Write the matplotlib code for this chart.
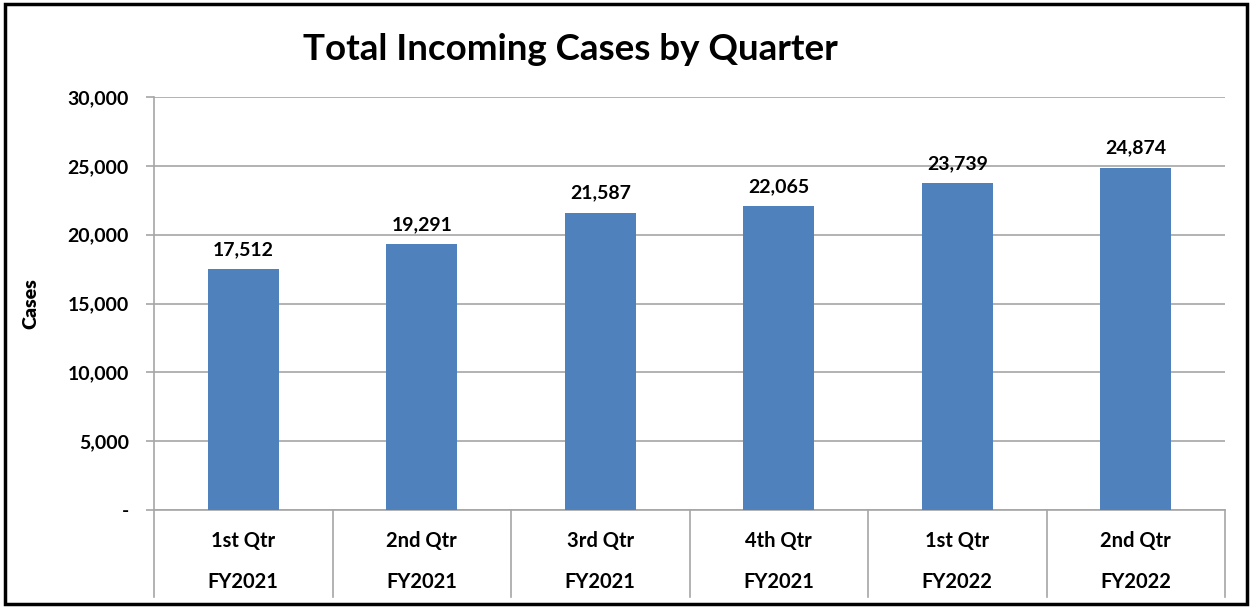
import matplotlib
matplotlib.use("Agg")
import matplotlib.pyplot as plt
from matplotlib.patches import Rectangle
from matplotlib.transforms import blended_transform_factory

quarters = ["1st Qtr", "2nd Qtr", "3rd Qtr", "4th Qtr", "1st Qtr", "2nd Qtr"]
years = ["FY2021", "FY2021", "FY2021", "FY2021", "FY2022", "FY2022"]
cases = [17512, 19291, 21587, 22065, 23739, 24874]
yticks = [0, 5000, 10000, 15000, 20000, 25000, 30000]

FONT = "Lato"
plt.rcParams['font.family'] = [FONT, 'DejaVu Sans']

fig = plt.figure(figsize=(12.52, 6.08), dpi=100)
ax = fig.add_axes([154/1252, 1-510/608, (1225-154)/1252, (510-97)/608])

x = list(range(len(cases)))
ax.bar(x, cases, width=0.4, color="#4F81BD", zorder=3)
for xi, v in zip(x, cases):
    ax.annotate(f"{v:,}", (xi, v), xytext=(0, 8), textcoords="offset points",
                ha="center", va="bottom", fontsize=14, fontweight="bold", color="black")

ax.set_xlim(-0.5, len(cases) - 0.5)
ax.set_ylim(0, 30000)
ax.set_yticks(yticks)
ax.set_yticklabels(["-" if t == 0 else f"{t:,}" for t in yticks],
                   fontsize=14, fontweight="bold")
ax.yaxis.grid(True, color="#A6A6A6", linewidth=1.2, zorder=0)
ax.tick_params(axis="y", length=6, width=1.2, color="#A6A6A6", pad=12)
ax.set_xticks([])
for s in ["top", "right"]:
    ax.spines[s].set_visible(False)
for s in ["left", "bottom"]:
    ax.spines[s].set_color("#A6A6A6")
    ax.spines[s].set_linewidth(1.2)
ax.set_ylabel("Cases", fontdict={"fontsize": 14, "fontweight": "heavy"}, labelpad=20)

trans = blended_transform_factory(ax.transData, ax.transAxes)
bottom_ax = -(597 - 510) / (510 - 97)
for b in [i - 0.5 for i in range(len(cases) + 1)]:
    ax.plot([b, b], [0, bottom_ax], transform=trans, color="#A6A6A6",
            linewidth=1.2, clip_on=False)
q_y = -(541 - 510) / (510 - 97)
y_y = -(582 - 510) / (510 - 97)
for xi, q, yr in zip(x, quarters, years):
    ax.text(xi, q_y, q, transform=trans, ha="center", va="center",
            fontsize=14.5, fontweight="bold")
    ax.text(xi, y_y, yr, transform=trans, ha="center", va="center",
            fontsize=14.5, fontweight="bold")

fig.text(570/1252, 1-50/608, "Total Incoming Cases by Quarter", ha="center", va="center",
         fontsize=26.5, fontweight="bold")

fig.patches.append(Rectangle((5/1252, 4/608), 1242/1252, 600/608, transform=fig.transFigure,
                             fill=False, edgecolor="black", linewidth=2.5))

fig.savefig("out.png", dpi=100)
